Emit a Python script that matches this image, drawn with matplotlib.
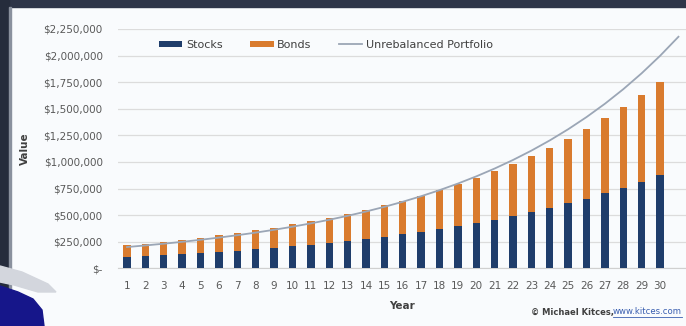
import matplotlib.pyplot as plt
from matplotlib.patches import Polygon, Rectangle
from matplotlib.ticker import FuncFormatter
import numpy as np

# portfolio values by year, rebalanced 50/50 each year
years = list(range(1, 31))
stocks = [107500, 115600, 124200, 133500, 143600, 154300, 165900, 178300, 191700, 206100,
          221600, 238200, 256000, 275200, 295900, 318100, 341900, 367600, 395100, 424800,
          456600, 490900, 527700, 567300, 609800, 655600, 704700, 757600, 814400, 875500]
bonds = [107500, 115600, 124200, 133500, 143600, 154300, 165900, 178300, 191700, 206100,
         221600, 238200, 256000, 275200, 295900, 318100, 341900, 367600, 395100, 424800,
         456600, 490900, 527700, 567300, 609800, 655600, 704700, 757600, 814400, 875500]
# buy-and-hold value, starting balance first
unrebalanced = [200000, 215000, 231250, 248860, 267960, 288680, 311170, 335580, 362100, 390930,
                422260, 456350, 493430, 533790, 577740, 625620, 677780, 734650, 796650, 864290,
                938080, 1018620, 1106550, 1202580, 1307480, 1422110, 1547390, 1684350, 1834110,
                1997920, 2177130]

W, H = 686, 326
plt.rcParams['font.family'] = ['DejaVu Sans']

fig = plt.figure(figsize=(W / 100, H / 100), dpi=100, facecolor='#f9fbfd')


def px(x, y):
    return x / W, 1 - y / H


# slide frame around the chart
fig.patches.append(Rectangle((0, 1 - 7 / H), 1, 7 / H, transform=fig.transFigure,
                             color='#2e3548', zorder=0))
fig.patches.append(Rectangle((0, 0), 9 / W, 1, transform=fig.transFigure,
                             color='#252c3c', zorder=0))
fig.patches.append(Rectangle((9 / W, 0), 2 / W, 1 - 7 / H, transform=fig.transFigure,
                             color='#8a919e', zorder=0))
fig.patches.append(Polygon([px(0, 266), px(22, 272), px(48, 284), px(56, 292), px(38, 292),
                            px(14, 285), px(0, 282)], closed=True, transform=fig.transFigure,
                           color='#d3d6dd', zorder=1))
fig.patches.append(Polygon([px(0, 286), px(18, 292), px(33, 299), px(42, 310), px(44, 326),
                            px(0, 326)], closed=True, transform=fig.transFigure,
                           color='#16168a', zorder=1))

ax = fig.add_axes([118 / W, (H - 268.3) / H, (W - 118) / W, (268.3 - 29) / H])
ax.set_facecolor('#f9fbfd')

b1 = ax.bar(years, stocks, width=0.4, color='#1f3d6b', label='Stocks', zorder=3)
b2 = ax.bar(years, bonds, width=0.4, bottom=stocks, color='#d97b2e', label='Bonds', zorder=3)
ln, = ax.plot(np.arange(1, len(unrebalanced) + 1), unrebalanced, color='#9ba6b6', lw=1.3,
              label='Unrebalanced Portfolio', zorder=4)

ax.set_xlim(0.51, 31.41)
ax.set_ylim(0, 2250000)
ax.set_yticks(np.arange(0, 2250001, 250000))
ax.yaxis.set_major_formatter(FuncFormatter(lambda v, p: '$-' if v == 0 else f'${v:,.0f}'))
ax.set_xticks(years)
ax.tick_params(axis='both', length=0, labelsize=7.5, colors='#595959')
ax.tick_params(axis='y', pad=11)
ax.tick_params(axis='x', pad=9)
ax.grid(axis='y', color='#dcdcdc', lw=0.9, zorder=0)
for s in ['top', 'right', 'left']:
    ax.spines[s].set_visible(False)
ax.spines['bottom'].set_color('#d0d0d0')

ax.set_xlabel('Year', fontsize=7.5, fontweight='bold', color='#404040', labelpad=7)
ax.set_ylabel('Value', fontsize=7.5, fontweight='bold', color='#404040', labelpad=10)

ax.legend([b1, b2, ln], ['Stocks', 'Bonds', 'Unrebalanced Portfolio'],
          loc='center', bbox_to_anchor=(0.366, 0.933), ncol=3, frameon=False, fontsize=8,
          handlelength=2.1, handleheight=0.5, columnspacing=2.5, handletextpad=0.3,
          labelcolor='#404040')

fig.text(531 / W, 1 - 312 / H, '\u00a9 Michael Kitces,', fontsize=6, fontweight='bold',
         color='#404040', va='center')
fig.text(613 / W, 1 - 312 / H, 'www.kitces.com', fontsize=6.1, color='#3a5fb0', va='center')
fig.add_artist(plt.Line2D([613 / W, 682 / W], [1 - 317 / H, 1 - 317 / H], color='#3a5fb0',
                          lw=0.6))

fig.savefig('out.png', dpi=100, facecolor=fig.get_facecolor())
